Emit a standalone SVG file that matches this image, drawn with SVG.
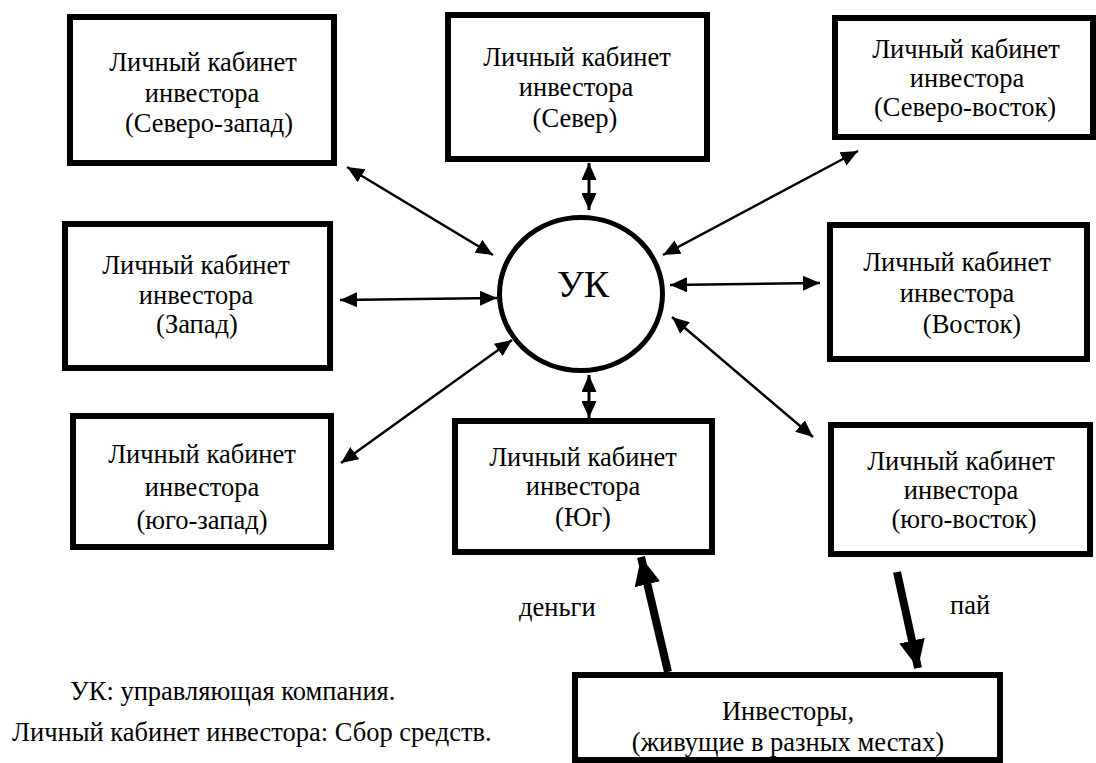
<svg xmlns="http://www.w3.org/2000/svg" width="1096" height="763" viewBox="0 0 1096 763">
<style>
.box{fill:#fff;stroke:#000;stroke-width:6}
.thin{stroke:#000;stroke-width:2.5;fill:none;marker-start:url(#ah);marker-end:url(#ah)}
.v{stroke:#000;stroke-width:3;fill:none;marker-start:url(#ah);marker-end:url(#ah)}
.thick{stroke:#000;stroke-width:8;fill:none;marker-end:url(#big)}
</style>
<defs>
<marker id="ah" markerUnits="userSpaceOnUse" markerWidth="17" markerHeight="15" refX="17" refY="7.5" orient="auto-start-reverse"><path d="M0,0 L17,7.5 L0,15 z" fill="#000"/></marker>
<marker id="big" markerUnits="userSpaceOnUse" markerWidth="28" markerHeight="26" refX="28" refY="13" orient="auto"><path d="M0,0 L28,13 L0,26 z" fill="#000"/></marker>
</defs>
<rect width="1096" height="763" fill="#fff"/>
<g font-family="Liberation Serif, Tinos, Times New Roman, Nimbus Roman, Noto Serif, FreeSerif, DejaVu Serif, Times, serif" font-size="26.5" fill="#000">
<g id="connectors">
<line class="thin" x1="347" y1="167" x2="493" y2="255"/>
<line class="v" x1="589" y1="163" x2="589" y2="210"/>
<line class="thin" x1="858" y1="151" x2="663" y2="255"/>
<line class="thin" x1="340" y1="300" x2="497" y2="298"/>
<line class="thin" x1="820" y1="283" x2="670" y2="285"/>
<line class="thin" x1="341" y1="463" x2="512" y2="340"/>
<line class="v" x1="589" y1="375" x2="589" y2="418"/>
<line class="thin" x1="813" y1="437" x2="672" y2="317"/>
<line class="thick" x1="668" y1="672" x2="641" y2="557"/>
<line class="thick" x1="897" y1="572" x2="918" y2="668"/>
<text x="519" y="616">деньги</text>
<text x="950" y="614">пай</text>
</g>
<g id="uk">
<ellipse cx="581" cy="294" rx="81.5" ry="76.5" fill="#fff" stroke="#000" stroke-width="5"/>
<text text-anchor="middle" x="583" y="297" font-size="38">УК</text>
</g>
<g id="nw" text-anchor="middle">
<rect class="box" x="70" y="17" width="264" height="146"/>
<text x="203" y="71">Личный кабинет</text>
<text x="202" y="102">инвестора</text>
<text x="209" y="132">(Северо-запад)</text>
</g>
<g id="n" text-anchor="middle">
<rect class="box" x="448" y="15" width="259" height="144"/>
<text x="577" y="66">Личный кабинет</text>
<text x="576" y="96">инвестора</text>
<text x="575" y="127">(Север)</text>
</g>
<g id="ne" text-anchor="middle">
<rect class="box" x="835" y="18" width="258" height="119"/>
<text x="966" y="58">Личный кабинет</text>
<text x="967" y="87">инвестора</text>
<text x="965" y="116">(Северо-восток)</text>
</g>
<g id="w" text-anchor="middle">
<rect class="box" x="65" y="224" width="265" height="144"/>
<text x="196" y="274">Личный кабинет</text>
<text x="196" y="304">инвестора</text>
<text x="197" y="333">(Запад)</text>
</g>
<g id="e" text-anchor="middle">
<rect class="box" x="830" y="225" width="257" height="134"/>
<text x="957" y="271">Личный кабинет</text>
<text x="957" y="302">инвестора</text>
<text x="972" y="333">(Восток)</text>
</g>
<g id="sw" text-anchor="middle">
<rect class="box" x="73" y="416" width="258" height="131"/>
<text x="202" y="463">Личный кабинет</text>
<text x="202" y="496">инвестора</text>
<text x="202" y="529">(юго-запад)</text>
</g>
<g id="s" text-anchor="middle">
<rect class="box" x="455" y="421" width="257" height="131"/>
<text x="583" y="466">Личный кабинет</text>
<text x="583" y="495">инвестора</text>
<text x="583" y="526">(Юг)</text>
</g>
<g id="se" text-anchor="middle">
<rect class="box" x="831" y="425" width="259" height="129"/>
<text x="961" y="470">Личный кабинет</text>
<text x="961" y="499">инвестора</text>
<text x="964" y="528">(юго-восток)</text>
</g>
<g id="investors" text-anchor="middle">
<rect class="box" x="575" y="675" width="425" height="85"/>
<text x="788" y="720">Инвесторы,</text>
<text x="788" y="751">(живущие в разных местах)</text>
</g>
<g id="legend">
<text x="70" y="700">УК: управляющая компания.</text>
<text x="12" y="741">Личный кабинет инвестора: Сбор средств.</text>
</g>
</g>
</svg>
